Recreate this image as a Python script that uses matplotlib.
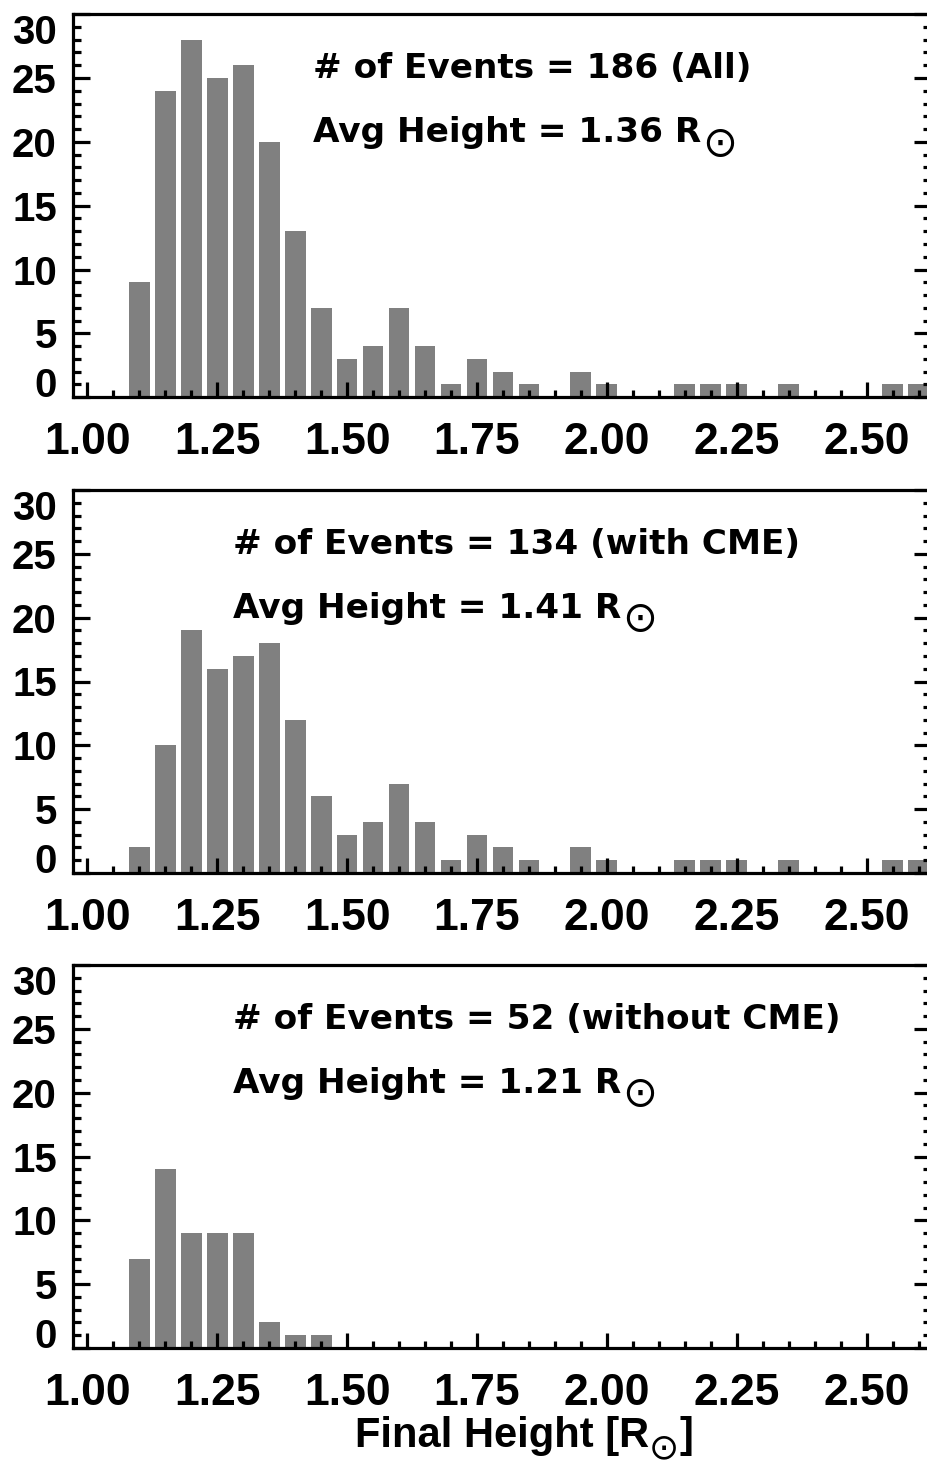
import matplotlib
matplotlib.use('Agg')
import matplotlib.pyplot as plt
from matplotlib.ticker import MultipleLocator

# ---- data -------------------------------------------------------------
bin_centers = [1.10, 1.15, 1.20, 1.25, 1.30, 1.35, 1.40, 1.45, 1.50, 1.55,
               1.60, 1.65, 1.70, 1.75, 1.80, 1.85, 1.90, 1.95, 2.00, 2.05,
               2.10, 2.15, 2.20, 2.25, 2.30, 2.35, 2.40, 2.45, 2.50, 2.55,
               2.60]
counts_all = [9, 24, 28, 25, 26, 20, 13, 7, 3, 4,
              7, 4, 1, 3, 2, 1, 0, 2, 1, 0,
              0, 1, 1, 1, 0, 1, 0, 0, 0, 1,
              1]
counts_cme = [2, 10, 19, 16, 17, 18, 12, 6, 3, 4,
              7, 4, 1, 3, 2, 1, 0, 2, 1, 0,
              0, 1, 1, 1, 0, 1, 0, 0, 0, 1,
              1]
counts_nocme = [7, 14, 9, 9, 9, 2, 1, 1, 0, 0,
                0, 0, 0, 0, 0, 0, 0, 0, 0, 0,
                0, 0, 0, 0, 0, 0, 0, 0, 0, 0,
                0]
line1_texts = ['# of Events = 186 (All)',
               '# of Events = 134 (with CME)',
               '# of Events = 52 (without CME)']
line2_texts = ['Avg Height = 1.36 R',
               'Avg Height = 1.41 R',
               'Avg Height = 1.21 R']
sun_symbol = '\u2299'
text_x = [1.4345, 1.281, 1.281]
x_ticks = [1.00, 1.25, 1.50, 1.75, 2.00, 2.25, 2.50]
x_ticklabels = ['1.00', '1.25', '1.50', '1.75', '2.00', '2.25', '2.50']
y_ticks = [0, 5, 10, 15, 20, 25, 30]
y_ticklabels = ['0', '5', '10', '15', '20', '25', '30']
x_title = 'Final Height [R'

# ---- layout ----------------------------------------------------------
W, H = 928, 1463
fig = plt.figure(figsize=(W / 100, H / 100), dpi=100)

left_px, right_px = 72.8, 931.5
tops = [14.2, 490.0, 965.0]
panel_h = 383.0

LAB = 'Liberation Sans'
TXT = 'DejaVu Sans'
LW = 2.3
ANN_FS = 24.7

series = [counts_all, counts_cme, counts_nocme]
axes = []
for i, counts in enumerate(series):
    top = tops[i]
    bottom = top + panel_h
    ax = fig.add_axes([left_px / W, 1 - bottom / H,
                       (right_px - left_px) / W, panel_h / H])
    axes.append(ax)
    ax.bar(bin_centers, counts, width=0.04, color='#808080',
           linewidth=0, zorder=1)
    ax.set_xlim(0.972, 2.625)
    ax.set_ylim(0, 30)
    for sp in ax.spines.values():
        sp.set_linewidth(LW)
    ax.set_xticks(x_ticks)
    ax.set_xticklabels(x_ticklabels, fontfamily=LAB, fontweight='bold',
                       fontsize=32)
    ax.xaxis.set_minor_locator(MultipleLocator(0.05))
    ax.set_yticks(y_ticks)
    ax.set_yticklabels(y_ticklabels, fontfamily=LAB, fontweight='bold',
                       fontsize=29)
    ax.yaxis.set_minor_locator(MultipleLocator(1))
    ax.tick_params(axis='x', which='both', direction='in', top=False,
                   bottom=True, width=LW, pad=18)
    ax.tick_params(axis='x', which='major', length=11)
    ax.tick_params(axis='x', which='minor', length=4.7)
    ax.tick_params(axis='y', which='both', direction='in', left=True,
                   right=True, width=LW, pad=11.5)
    ax.tick_params(axis='y', which='major', length=12)
    ax.tick_params(axis='y', which='minor', length=5.8)
    ylabs = ax.get_yticklabels()
    ylabs[0].set_va('baseline')
    ylabs[-1].set_va('top')

    ax.text(text_x[i], 25, line1_texts[i], fontfamily=TXT,
            fontweight='bold', fontsize=ANN_FS, va='baseline', ha='left')
    t2 = ax.text(text_x[i], 20, line2_texts[i], fontfamily=TXT,
                 fontweight='bold', fontsize=ANN_FS, va='baseline',
                 ha='left')
    # subscript sun symbol, centred on the baseline
    ax.annotate(sun_symbol, xy=(1, 0), xycoords=t2,
                xytext=(0.5, 0.236 * ANN_FS - 2.0),
                textcoords='offset points',
                fontfamily=TXT, fontsize=30, ha='left', va='center')

ax3 = axes[-1]
XL_FS = 30
ax3.set_xlabel(x_title, fontfamily=LAB, fontweight='bold', fontsize=XL_FS)
lab = ax3.xaxis.label
lab.set_ha('left')
lab.set_va('baseline')
ax3.xaxis.set_label_coords((355 - left_px) / (right_px - left_px),
                           -(1447 - (tops[2] + panel_h)) / panel_h)
sun_x = ax3.annotate(sun_symbol, xy=(1, 0), xycoords=lab,
                     xytext=(0.0, 0.21 * XL_FS - 0.5),
                     textcoords='offset points',
                     fontfamily=TXT, fontsize=26, ha='left', va='center')
ax3.annotate(']', xy=(1, 0), xycoords=(sun_x, lab),
             xytext=(0.0, 0), textcoords='offset points',
             fontfamily=LAB, fontweight='bold', fontsize=XL_FS,
             ha='left', va='bottom')

fig.savefig('out.png', dpi=100)
